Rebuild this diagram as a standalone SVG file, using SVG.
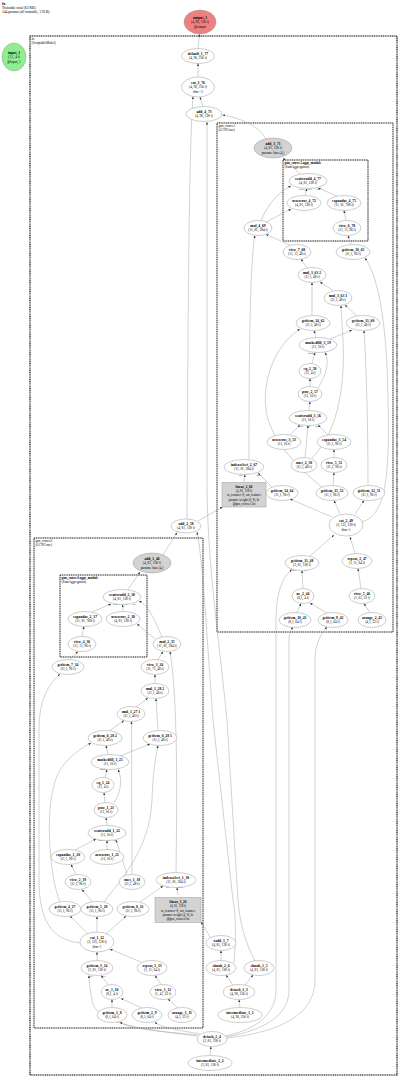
<svg xmlns="http://www.w3.org/2000/svg" width="400" height="1079" viewBox="0 0 400 1079">
<style>
text{font-family:"Liberation Serif",serif;font-size:3.4px;text-anchor:middle;fill:#000}
.b{font-weight:bold;font-size:3.7px}
.h{text-anchor:start;font-size:3.6px}
.cl{text-anchor:start;font-size:3.3px}
.lb{font-size:2.6px;fill:#333}
.node ellipse{fill:#fff;stroke:#9a9a9a;stroke-width:0.5}
.node.gray ellipse,.node.gray rect{fill:#d3d3d3;stroke:#9a9a9a;stroke-width:0.5}
.lin text{font-size:3.1px}
.lin text.b{font-size:3.4px}
.cluster{fill:none;stroke:#000;stroke-width:0.9;stroke-dasharray:1.2,0.6}
#edges path{fill:none;stroke:#9a9a9a;stroke-width:0.45;marker-end:url(#arr)}
</style>
<defs>
<marker id="arr" markerUnits="userSpaceOnUse" markerWidth="3" markerHeight="3" refX="2.6" refY="1.1" orient="auto">
<path d="M0,0 L2.6,1.1 L0,2.2 z" fill="#333"/>
</marker>
</defs>
<rect width="400" height="1079" fill="#fff"/>
<g id="header">
<text class="h b" x="2" y="5">fn</text>
<text class="h" x="2" y="9">Trainable total (63 KB)</text>
<text class="h" x="2" y="13">144 params (all trainable, 576 B)</text>
</g>
<g id="clusters">
<rect class="cluster" x="30" y="36" width="367" height="1039" style="stroke-width:1.1"/>
<text class="cl" x="31.5" y="40">fn</text>
<text class="cl" x="31.5" y="43.6">(ScriptableModel)</text>
<rect class="cluster" x="217" y="123" width="176" height="509"/>
<text class="cl" x="218.5" y="127">gnn_convs.1</text>
<text class="cl" x="218.5" y="130.6">(GCNConv)</text>
<rect class="cluster" x="283" y="160" width="85" height="81"/>
<text class="cl b" x="284.5" y="164" style="font-size:3.3px">gnn_convs.1.aggr_module</text>
<text class="cl" x="284.5" y="167.6">(SumAggregation)</text>
<rect class="cluster" x="34" y="538" width="169" height="490"/>
<text class="cl" x="35.5" y="542">gnn_convs.0</text>
<text class="cl" x="35.5" y="545.6">(GCNConv)</text>
<rect class="cluster" x="60" y="575" width="87" height="82"/>
<text class="cl b" x="61.5" y="579" style="font-size:3.3px">gnn_convs.0.aggr_module</text>
<text class="cl" x="61.5" y="582.6">(SumAggregation)</text>
</g>
<g id="edges">
<path d="M198,48.5 L199.5,34"/>
<path d="M198,77 L198,63.5"/>
<path d="M203,106.5 L200,97"/>
<path d="M187,519 C188,300 189,150 193,96.6"/>
<path d="M266,139 C258,125 240,118 222.5,115"/>
<path d="M255,961 C246,945 239,920 238,900 L227,720 C218,630 207,560 207,480 L207,122"/>
<path d="M234,963 C236,940 236,915 233,900 L213,720 C207,640 203,560 197,532"/>
<path d="M163,555 L177,532.5"/>
<path d="M198,521 L222.5,507"/>
<path d="M128,589.5 L140,572"/>
<path d="M123,611.5 L122.5,604.5"/>
<path d="M92,612 L111,604"/>
<path d="M162,637 C155,620 148,605 139,601"/>
<path d="M155,639 L137,624"/>
<path d="M82,636.5 L84,626.5"/>
<path d="M70,659.5 L78,651.5"/>
<path d="M158,659.5 L163,651.5"/>
<path d="M176,872.5 C177,800 178,700 170,651.5"/>
<path d="M155,683.5 L155,674.5"/>
<path d="M136,707 L148,698"/>
<path d="M158,730.5 L156,698.5"/>
<path d="M110,730.5 L124,720.5"/>
<path d="M132,874.5 L131.5,721.5"/>
<path d="M108,754.5 L106,745.5"/>
<path d="M120,756 L150,744"/>
<path d="M60,902 C50,880 42,800 60,770 C70,755 82,748 91,743"/>
<path d="M104,902 C120,880 150,850 152,800 C153,770 156,755 158,745.5"/>
<path d="M105,802.5 L104,792.5"/>
<path d="M105,777.5 L107,769.5"/>
<path d="M114,803 C122,790 122,778 118,769.5"/>
<path d="M107,825.5 L106,817.5"/>
<path d="M107,849.5 L107,840.5"/>
<path d="M75,850 L96,839"/>
<path d="M127,874.5 L116,840"/>
<path d="M76,874.5 L71,864.5"/>
<path d="M92,901.5 L82,889.5"/>
<path d="M88,934 L70,916"/>
<path d="M97,932 L97,916.5"/>
<path d="M106,934 L126,916"/>
<path d="M80,943 C55,940 39,925 39,880 L39,730 C39,700 48,685 60,674"/>
<path d="M178,895 L177,887.5"/>
<path d="M140,902 L163,886"/>
<path d="M210,937 L201,922"/>
<path d="M221,960.5 L221,950.5"/>
<path d="M97,960.5 L97,952"/>
<path d="M141,962 L110,949"/>
<path d="M161,984.5 L155,975.5"/>
<path d="M178,1008 L168,999"/>
<path d="M108,984.5 L101,975.5"/>
<path d="M112,1007.5 L112,999.5"/>
<path d="M142,1008 L121,998.5"/>
<path d="M197,1036 C150,1030 95,1025 92,1000 C90,990 89,982 89,975.5"/>
<path d="M198,1035 C170,1032 130,1030 120,1022"/>
<path d="M200,1034 C180,1030 160,1028 155,1022"/>
<path d="M225,1036 C255,1030 276,1015 276,990 L276,620 C276,590 284,575 292,569.5"/>
<path d="M226,1037 C265,1030 289,1015 289,990 L289,640 C289,633 291,630 293,627"/>
<path d="M227,1038 C280,1032 315,1015 315,980 L315,660 C315,645 320,635 327,627"/>
<path d="M210,1055 L211,1046.5"/>
<path d="M240,1007.5 L239,999.5"/>
<path d="M233,985 L226,975"/>
<path d="M245,985 L253,975"/>
<path d="M300,174 L283,158"/>
<path d="M305,195.5 L307,188.5"/>
<path d="M337,196 L318,188"/>
<path d="M261,220.5 C270,200 282,190 291,186"/>
<path d="M266,222 L291,209"/>
<path d="M346,220.5 L344,210.5"/>
<path d="M351,244.5 L348,235.5"/>
<path d="M290,245 L266,234.5"/>
<path d="M249,459.5 C249,350 250,260 255,235.5"/>
<path d="M307,268 L301,259"/>
<path d="M333,290.5 L320,282"/>
<path d="M312,315.5 L312,282.5"/>
<path d="M357,316 L345,305"/>
<path d="M316,337.5 L314,330.5"/>
<path d="M330,339 L352,330"/>
<path d="M312,363.5 L315,352.5"/>
<path d="M310,386.5 L310,378.5"/>
<path d="M318,388 C326,375 330,362 325,352.5"/>
<path d="M309,410.5 L310,401.5"/>
<path d="M290,435 L300,425"/>
<path d="M328,435 L318,425"/>
<path d="M305,457.5 L308,425.5"/>
<path d="M312,458 C340,430 345,380 343,340 L341,305.5"/>
<path d="M334,457.5 L334,449.5"/>
<path d="M333,485.5 L334,472.5"/>
<path d="M322,487 C300,470 270,440 266,410 C262,380 275,345 300,329"/>
<path d="M368,485.5 C368,420 366,360 364,330.5"/>
<path d="M272,487 L258,473"/>
<path d="M244,482 L245,474.5"/>
<path d="M332,517 L290,499"/>
<path d="M340,513.5 L334,500.5"/>
<path d="M355,514 L364,500.5"/>
<path d="M362,522 C385,515 390,480 388,400 C387,330 380,280 365,258"/>
<path d="M310,556 L334,535"/>
<path d="M355,553.5 L350,537"/>
<path d="M303,588.5 L302,570.5"/>
<path d="M297,612.5 L301,603.5"/>
<path d="M327,613 L310,603"/>
<path d="M361,588.5 L358,568.5"/>
<path d="M370,612.5 L364,603.5"/>
</g>
<g id="edge-labels">
<text class="lb" x="116" y="605">index</text><text class="lb" x="126" y="605">self</text><text class="lb" x="134" y="605">src</text>
<text class="lb" x="101" y="841">index</text><text class="lb" x="108.5" y="841">self</text><text class="lb" x="115" y="841">src</text>
<text class="lb" x="103" y="770">mask</text>
<text class="lb" x="168" y="888">self</text><text class="lb" x="180" y="888">index</text>
<text class="lb" x="91" y="977">self</text><text class="lb" x="104" y="977">key</text>
<text class="lb" x="302" y="190">index</text><text class="lb" x="310" y="190">self</text><text class="lb" x="318" y="190">src</text>
<text class="lb" x="301" y="427">self</text><text class="lb" x="309" y="427">src</text><text class="lb" x="318" y="427">index</text>
<text class="lb" x="311" y="354">mask</text>
<text class="lb" x="241" y="476">self</text><text class="lb" x="259" y="476">index</text>
<text class="lb" x="294" y="571">self</text><text class="lb" x="306" y="571">key</text>
</g>
<g id="output_1" class="node"><ellipse cx="200" cy="22" rx="16" ry="12" style="fill:#f08080"/><text class="b" x="200" y="19.1">output_1</text><text x="200" y="23.3">(4, 96, 256 f)</text><text x="200" y="27.5">@output</text></g>
<g id="input_1" class="node"><ellipse cx="14" cy="57" rx="12" ry="14" style="fill:#90ee90"/><text class="b" x="14" y="54.1">input_1</text><text x="14" y="58.3">(1,1, 4 f)</text><text x="14" y="62.5">@input_1</text></g>
<g id="default_1_77" class="node"><ellipse cx="198" cy="56" rx="16.5" ry="7.5"/><text class="b" x="198" y="55.2">default_1_77</text><text x="198" y="59.4">(4, 96, 256 f)</text></g>
<g id="cat_3_76" class="node"><ellipse cx="198" cy="87" rx="16.5" ry="10"/><text class="b" x="198" y="84.1">cat_3_76</text><text x="198" y="88.3">(4, 96, 256 f)</text><text x="198" y="92.5">dim=-1</text></g>
<g id="add_4_73" class="node"><ellipse cx="204" cy="114" rx="18" ry="7.5"/><text class="b" x="204" y="113.2">add_4_73</text><text x="204" y="117.4">(4, 96, 128 f)</text></g>
<g id="add_3_71" class="node gray"><ellipse cx="273" cy="148" rx="19" ry="10"/><text class="b" x="273" y="145.1">add_3_71</text><text x="273" y="149.3">(4, 81, 128 f)</text><text x="273" y="153.5">params: bias (4,)</text></g>
<g id="scatteradd_4_77" class="node"><ellipse cx="308" cy="181" rx="19" ry="7.5"/><text class="b" x="308" y="180.2">scatteradd_4_77</text><text x="308" y="184.4">(4, 81, 128 f)</text></g>
<g id="newzeros_4_72" class="node"><ellipse cx="304" cy="203" rx="17" ry="7.5"/><text class="b" x="304" y="202.2">newzeros_4_72</text><text x="304" y="206.4">(4, 81, 128 f)</text></g>
<g id="expandas_4_75" class="node"><ellipse cx="344" cy="203" rx="17" ry="7.5"/><text class="b" x="344" y="202.2">expandas_4_75</text><text x="344" y="206.4">(11, 81, 768 f)</text></g>
<g id="view_6_78" class="node"><ellipse cx="347" cy="228" rx="14" ry="7.5"/><text class="b" x="347" y="227.2">view_6_78</text><text x="347" y="231.4">(11, 11, 96 f)</text></g>
<g id="mul_4_69" class="node"><ellipse cx="258" cy="228" rx="14" ry="7.5"/><text class="b" x="258" y="227.2">mul_4_69</text><text x="258" y="231.4">(11, 81, 384 f)</text></g>
<g id="view_7_68" class="node"><ellipse cx="297" cy="252" rx="14" ry="7.5"/><text class="b" x="297" y="251.2">view_7_68</text><text x="297" y="255.4">(11, 11, 48 f)</text></g>
<g id="getitem_10_65" class="node"><ellipse cx="353" cy="252" rx="17" ry="7.5"/><text class="b" x="353" y="251.2">getitem_10_65</text><text x="353" y="255.4">(11,1, 96 f)</text></g>
<g id="mul_3_63_2" class="node"><ellipse cx="312" cy="275" rx="14" ry="7.5"/><text class="b" x="312" y="274.2">mul_3_63 2</text><text x="312" y="278.4">(11,1, 48 f)</text></g>
<g id="mul_3_63_1" class="node"><ellipse cx="338" cy="298" rx="14" ry="7.5"/><text class="b" x="338" y="297.2">mul_3_63 1</text><text x="338" y="301.4">(11,1, 48 f)</text></g>
<g id="getitem_14_62" class="node"><ellipse cx="313" cy="323" rx="17" ry="7.5"/><text class="b" x="313" y="322.2">getitem_14_62</text><text x="313" y="326.4">(11,1, 48 f)</text></g>
<g id="getitem_11_60" class="node"><ellipse cx="363" cy="323" rx="17" ry="7.5"/><text class="b" x="363" y="322.2">getitem_11_60</text><text x="363" y="326.4">(11,1, 48 f)</text></g>
<g id="maskedfill_3_59" class="node"><ellipse cx="318" cy="345" rx="19" ry="7.5"/><text class="b" x="318" y="344.2">maskedfill_3_59</text><text x="318" y="348.4">(11, 16 f)</text></g>
<g id="eq_2_58" class="node"><ellipse cx="310" cy="371" rx="11" ry="7.5"/><text class="b" x="310" y="370.2">eq_2_58</text><text x="310" y="374.4">(11, 4 f)</text></g>
<g id="pow_2_57" class="node"><ellipse cx="310" cy="394" rx="12" ry="7.5"/><text class="b" x="310" y="393.2">pow_2_57</text><text x="310" y="397.4">(11, 16 f)</text></g>
<g id="scatteradd_3_56" class="node"><ellipse cx="308" cy="418" rx="19" ry="7.5"/><text class="b" x="308" y="417.2">scatteradd_3_56</text><text x="308" y="421.4">(11, 16 f)</text></g>
<g id="newzeros_3_53" class="node"><ellipse cx="284" cy="442" rx="17" ry="7.5"/><text class="b" x="284" y="441.2">newzeros_3_53</text><text x="284" y="445.4">(11, 16 f)</text></g>
<g id="expandas_3_54" class="node"><ellipse cx="334" cy="442" rx="17" ry="7.5"/><text class="b" x="334" y="441.2">expandas_3_54</text><text x="334" y="445.4">(11,1, 96 f)</text></g>
<g id="ones_2_50" class="node"><ellipse cx="304" cy="465" rx="13" ry="7.5"/><text class="b" x="304" y="464.2">ones_2_50</text><text x="304" y="468.4">(11,1, 48 f)</text></g>
<g id="view_5_51" class="node"><ellipse cx="334" cy="465" rx="13" ry="7.5"/><text class="b" x="334" y="464.2">view_5_51</text><text x="334" y="468.4">(11,1, 96 f)</text></g>
<g id="indexselect_2_67" class="node"><ellipse cx="244" cy="467" rx="20" ry="7.5"/><text class="b" x="244" y="466.2">indexselect_2_67</text><text x="244" y="470.4">(11, 81, 384 f)</text></g>
<g id="linear_2_66" class="node gray lin"><rect x="222" y="482.5" width="44" height="24.5"/><text class="b" x="244" y="487.8">linear_2_66</text><text x="244" y="492.1">(4, 81, 128 f)</text><text x="244" y="496.4">in_features=8, out_features</text><text x="244" y="500.7">params: weight (8, 8), bi</text><text x="244" y="505">@gnn_convs.1.lin</text></g>
<g id="getitem_14_64" class="node"><ellipse cx="282" cy="493" rx="16" ry="7.5"/><text class="b" x="282" y="492.2">getitem_14_64</text><text x="282" y="496.4">(11,1, 96 f)</text></g>
<g id="getitem_15_52" class="node"><ellipse cx="332" cy="493" rx="16" ry="7.5"/><text class="b" x="332" y="492.2">getitem_15_52</text><text x="332" y="496.4">(11,1, 96 f)</text></g>
<g id="getitem_12_51" class="node"><ellipse cx="369" cy="493" rx="16" ry="7.5"/><text class="b" x="369" y="492.2">getitem_12_51</text><text x="369" y="496.4">(11,1, 96 f)</text></g>
<g id="cat_2_49" class="node"><ellipse cx="346" cy="525" rx="17" ry="11"/><text class="b" x="346" y="522.1">cat_2_49</text><text x="346" y="526.3">(2, 131, 128 f)</text><text x="346" y="530.5">dim=1</text></g>
<g id="getitem_11_48" class="node"><ellipse cx="302" cy="563" rx="17" ry="7.5"/><text class="b" x="302" y="562.2">getitem_11_48</text><text x="302" y="566.4">(2, 81, 128 f)</text></g>
<g id="repeat_2_47" class="node"><ellipse cx="357" cy="561" rx="15" ry="7.5"/><text class="b" x="357" y="560.2">repeat_2_47</text><text x="357" y="564.4">(1, 11, 64 f)</text></g>
<g id="ne_2_44" class="node"><ellipse cx="303" cy="596" rx="11" ry="7.5"/><text class="b" x="303" y="595.2">ne_2_44</text><text x="303" y="599.4">(8,1, 4 f)</text></g>
<g id="view_5_46" class="node"><ellipse cx="362" cy="596" rx="13" ry="7.5"/><text class="b" x="362" y="595.2">view_5_46</text><text x="362" y="599.4">(1, 61, 32 f)</text></g>
<g id="getitem_10_43" class="node"><ellipse cx="295" cy="620" rx="16" ry="7.5"/><text class="b" x="295" y="619.2">getitem_10_43</text><text x="295" y="623.4">(8,1, 64 f)</text></g>
<g id="getitem_9_42" class="node"><ellipse cx="333" cy="620" rx="15" ry="7.5"/><text class="b" x="333" y="619.2">getitem_9_42</text><text x="333" y="623.4">(8,1, 64 f)</text></g>
<g id="arange_2_45" class="node"><ellipse cx="372" cy="620" rx="14" ry="7.5"/><text class="b" x="372" y="619.2">arange_2_45</text><text x="372" y="623.4">(4,1, 32 f)</text></g>
<g id="add_2_58" class="node"><ellipse cx="186" cy="526" rx="15" ry="7"/><text class="b" x="186" y="525.2">add_2_58</text><text x="186" y="529.4">(4, 81, 128 f)</text></g>
<g id="add_1_46" class="node gray"><ellipse cx="152" cy="563" rx="19" ry="10"/><text class="b" x="152" y="560.1">add_1_46</text><text x="152" y="564.3">(4, 81, 128 f)</text><text x="152" y="568.5">params: bias (4,)</text></g>
<g id="scatteradd_2_38" class="node"><ellipse cx="122" cy="597" rx="19" ry="7.5"/><text class="b" x="122" y="596.2">scatteradd_2_38</text><text x="122" y="600.4">(4, 81, 128 f)</text></g>
<g id="expandas_2_37" class="node"><ellipse cx="85" cy="619" rx="17" ry="7.5"/><text class="b" x="85" y="618.2">expandas_2_37</text><text x="85" y="622.4">(11, 81, 768 f)</text></g>
<g id="newzeros_2_38" class="node"><ellipse cx="123" cy="619" rx="17" ry="7.5"/><text class="b" x="123" y="618.2">newzeros_2_38</text><text x="123" y="622.4">(4, 81, 128 f)</text></g>
<g id="view_4_36" class="node"><ellipse cx="82" cy="644" rx="14" ry="7.5"/><text class="b" x="82" y="643.2">view_4_36</text><text x="82" y="647.4">(11, 11, 96 f)</text></g>
<g id="mul_2_35" class="node"><ellipse cx="167" cy="644" rx="14" ry="7.5"/><text class="b" x="167" y="643.2">mul_2_35</text><text x="167" y="647.4">(11, 81, 384 f)</text></g>
<g id="getitem_7_34" class="node"><ellipse cx="68" cy="667" rx="16" ry="7.5"/><text class="b" x="68" y="666.2">getitem_7_34</text><text x="68" y="670.4">(11,1, 96 f)</text></g>
<g id="view_3_34" class="node"><ellipse cx="155" cy="667" rx="14" ry="7.5"/><text class="b" x="155" y="666.2">view_3_34</text><text x="155" y="670.4">(11, 71, 48 f)</text></g>
<g id="mul_1_28_2" class="node"><ellipse cx="155" cy="691" rx="14" ry="7.5"/><text class="b" x="155" y="690.2">mul_1_28 2</text><text x="155" y="694.4">(11,1, 48 f)</text></g>
<g id="mul_1_27_1" class="node"><ellipse cx="131" cy="714" rx="14" ry="7.5"/><text class="b" x="131" y="713.2">mul_1_27 1</text><text x="131" y="717.4">(11,1, 48 f)</text></g>
<g id="getitem_6_28_2" class="node"><ellipse cx="105" cy="738" rx="17" ry="7.5"/><text class="b" x="105" y="737.2">getitem_6_28 2</text><text x="105" y="741.4">(11,1, 48 f)</text></g>
<g id="getitem_6_28_1" class="node"><ellipse cx="160" cy="738" rx="17" ry="7.5"/><text class="b" x="160" y="737.2">getitem_6_28 1</text><text x="160" y="741.4">(11,1, 48 f)</text></g>
<g id="maskedfill_1_25" class="node"><ellipse cx="110" cy="762" rx="19" ry="7.5"/><text class="b" x="110" y="761.2">maskedfill_1_25</text><text x="110" y="765.4">(11, 16 f)</text></g>
<g id="eq_1_24" class="node"><ellipse cx="103" cy="785" rx="11" ry="7.5"/><text class="b" x="103" y="784.2">eq_1_24</text><text x="103" y="788.4">(11, 4 f)</text></g>
<g id="pow_1_23" class="node"><ellipse cx="106" cy="810" rx="12" ry="7.5"/><text class="b" x="106" y="809.2">pow_1_23</text><text x="106" y="813.4">(11, 16 f)</text></g>
<g id="scatteradd_1_22" class="node"><ellipse cx="107" cy="833" rx="19" ry="7.5"/><text class="b" x="107" y="832.2">scatteradd_1_22</text><text x="107" y="836.4">(11, 16 f)</text></g>
<g id="expandas_1_20" class="node"><ellipse cx="68" cy="857" rx="17" ry="7.5"/><text class="b" x="68" y="856.2">expandas_1_20</text><text x="68" y="860.4">(11,1, 96 f)</text></g>
<g id="newzeros_1_21" class="node"><ellipse cx="107" cy="857" rx="17" ry="7.5"/><text class="b" x="107" y="856.2">newzeros_1_21</text><text x="107" y="860.4">(11, 16 f)</text></g>
<g id="view_2_19" class="node"><ellipse cx="78" cy="882" rx="13" ry="7.5"/><text class="b" x="78" y="881.2">view_2_19</text><text x="78" y="885.4">(11,1, 96 f)</text></g>
<g id="ones_1_18" class="node"><ellipse cx="132" cy="882" rx="13" ry="7.5"/><text class="b" x="132" y="881.2">ones_1_18</text><text x="132" y="885.4">(11,1, 48 f)</text></g>
<g id="indexselect_1_30" class="node"><ellipse cx="176" cy="880" rx="20" ry="7.5"/><text class="b" x="176" y="879.2">indexselect_1_30</text><text x="176" y="883.4">(11, 81, 384 f)</text></g>
<g id="linear_1_26" class="node gray lin"><rect x="155" y="897.5" width="46" height="25"/><text class="b" x="178" y="903">linear_1_26</text><text x="178" y="907.3">(4, 81, 128 f)</text><text x="178" y="911.6">in_features=8, out_features</text><text x="178" y="915.9">params: weight (4, 8), bi</text><text x="178" y="920.2">@gnn_convs.0.lin</text></g>
<g id="getitem_4_17" class="node"><ellipse cx="65" cy="909" rx="16" ry="7.5"/><text class="b" x="65" y="908.2">getitem_4_17</text><text x="65" y="912.4">(11,1, 96 f)</text></g>
<g id="getitem_5_18" class="node"><ellipse cx="97" cy="909" rx="16" ry="7.5"/><text class="b" x="97" y="908.2">getitem_5_18</text><text x="97" y="912.4">(11,1, 96 f)</text></g>
<g id="getitem_8_32" class="node"><ellipse cx="133" cy="909" rx="16" ry="7.5"/><text class="b" x="133" y="908.2">getitem_8_32</text><text x="133" y="912.4">(11,1, 96 f)</text></g>
<g id="cat_1_12" class="node"><ellipse cx="97" cy="942" rx="17" ry="10"/><text class="b" x="97" y="939.1">cat_1_12</text><text x="97" y="943.3">(2, 125, 128 f)</text><text x="97" y="947.5">dim=1</text></g>
<g id="getitem_3_14" class="node"><ellipse cx="97" cy="968" rx="16" ry="7.5"/><text class="b" x="97" y="967.2">getitem_3_14</text><text x="97" y="971.4">(2, 81, 128 f)</text></g>
<g id="repeat_1_13" class="node"><ellipse cx="152" cy="968" rx="15" ry="7.5"/><text class="b" x="152" y="967.2">repeat_1_13</text><text x="152" y="971.4">(1, 11, 64 f)</text></g>
<g id="ne_1_10" class="node"><ellipse cx="112" cy="992" rx="11" ry="7.5"/><text class="b" x="112" y="991.2">ne_1_10</text><text x="112" y="995.4">(8,1, 4 f)</text></g>
<g id="view_1_12" class="node"><ellipse cx="163" cy="992" rx="13" ry="7.5"/><text class="b" x="163" y="991.2">view_1_12</text><text x="163" y="995.4">(1, 41, 32 f)</text></g>
<g id="getitem_1_8" class="node"><ellipse cx="112" cy="1015" rx="15" ry="7.5"/><text class="b" x="112" y="1014.2">getitem_1_8</text><text x="112" y="1018.4">(8,1, 64 f)</text></g>
<g id="getitem_2_9" class="node"><ellipse cx="147" cy="1015" rx="15" ry="7.5"/><text class="b" x="147" y="1014.2">getitem_2_9</text><text x="147" y="1018.4">(8,1, 64 f)</text></g>
<g id="arange_1_11" class="node"><ellipse cx="182" cy="1015" rx="14" ry="7.5"/><text class="b" x="182" y="1014.2">arange_1_11</text><text x="182" y="1018.4">(4,1, 32 f)</text></g>
<g id="radd_1_7" class="node"><ellipse cx="221" cy="943" rx="15" ry="7.5"/><text class="b" x="221" y="942.2">radd_1_7</text><text x="221" y="946.4">(4, 81, 128 f)</text></g>
<g id="chunk_2_6" class="node"><ellipse cx="221" cy="968" rx="15" ry="7.5"/><text class="b" x="221" y="967.2">chunk_2_6</text><text x="221" y="971.4">(4, 81, 128 f)</text></g>
<g id="chunk_1_5" class="node"><ellipse cx="259" cy="968" rx="15" ry="7.5"/><text class="b" x="259" y="967.2">chunk_1_5</text><text x="259" y="971.4">(4, 81, 128 f)</text></g>
<g id="detach_1_3" class="node"><ellipse cx="239" cy="992" rx="16" ry="7.5"/><text class="b" x="239" y="991.2">detach_1_3</text><text x="239" y="995.4">(4, 96, 256 f)</text></g>
<g id="intermediate_1_1" class="node"><ellipse cx="240" cy="1015" rx="22" ry="7.5"/><text class="b" x="240" y="1014.2">intermediate_1_1</text><text x="240" y="1018.4">(4, 96, 256 f)</text></g>
<g id="detach_2_4" class="node"><ellipse cx="212" cy="1039" rx="15" ry="7.5"/><text class="b" x="212" y="1038.2">detach_2_4</text><text x="212" y="1042.4">(2, 81, 128 f)</text></g>
<g id="intermediate_2_2" class="node"><ellipse cx="210" cy="1063" rx="22" ry="7.5"/><text class="b" x="210" y="1062.2">intermediate_2_2</text><text x="210" y="1066.4">(2, 81, 128 f)</text></g>
</svg>
